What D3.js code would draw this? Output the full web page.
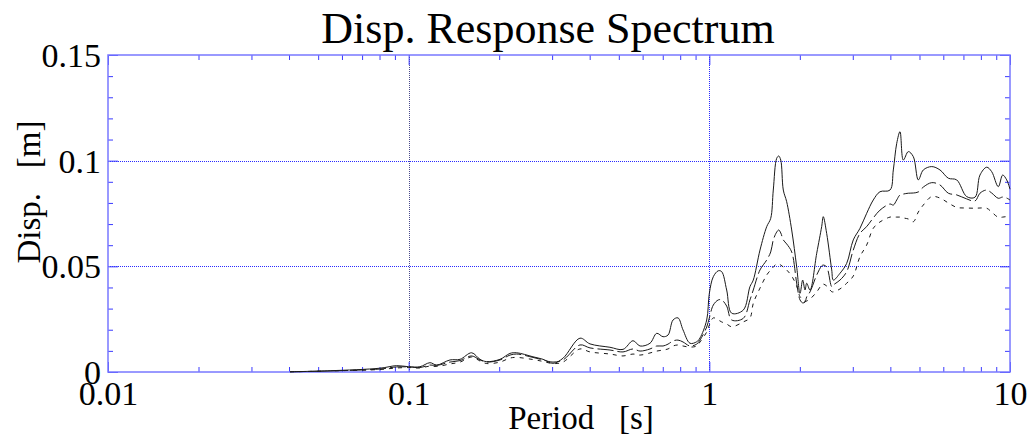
<!DOCTYPE html>
<html><head><meta charset="utf-8">
<script src="https://cdn.jsdelivr.net/npm/d3@7"></script>
<style>
html,body{margin:0;padding:0;background:#fff;}
svg{display:block;}
text{font-family:"Liberation Serif","Times New Roman",serif;fill:#000;}
</style></head>
<body>
<svg id="chart" width="1034" height="440"></svg>
<script>
// ---- data ----
const periods = [0.0403,0.0548,0.0803,0.0912,0.1,0.109,0.1177,0.124,0.1372,0.1482,0.162,0.1727,0.1818,0.2013,0.2173,0.2287,0.2591,0.2798,0.302,0.326,0.3713,0.401,0.4672,0.5163,0.5574,0.5882,0.6348,0.6683,0.7015,0.7289,0.7573,0.7868,0.8176,0.8623,0.9078,0.931,0.980,1.0,1.031,1.071,1.099,1.142,1.187,1.297,1.365,1.400,1.474,1.552,1.600,1.632,1.675,1.701,1.728,1.762,1.808,1.879,1.952,2.003,2.044,2.081,2.108,2.162,2.276,2.364,2.393,2.456,2.553,2.585,2.720,2.863,3.011,3.170,3.337,3.510,3.695,3.990,4.092,4.200,4.307,4.418,4.590,4.769,4.955,5.148,5.491,5.851,6.235,6.648,7.178,7.648,7.946,8.365,8.691,9.142,9.455,9.750,10];
const dispSolid = [0.0001,0.0006,0.0018,0.0030,0.0025,0.0025,0.0044,0.0033,0.0057,0.0060,0.0091,0.0060,0.0049,0.0060,0.0088,0.0091,0.0072,0.0060,0.0041,0.0065,0.0160,0.0133,0.0117,0.0107,0.0148,0.0123,0.0136,0.0183,0.0167,0.0175,0.0246,0.0256,0.0199,0.0136,0.0143,0.0161,0.0246,0.0372,0.0451,0.0479,0.0475,0.0388,0.0278,0.0293,0.0404,0.0435,0.0577,0.0688,0.0727,0.0861,0.1011,0.1022,0.1003,0.0861,0.0806,0.0672,0.0498,0.0372,0.0435,0.0388,0.0420,0.0388,0.0562,0.0688,0.0735,0.0656,0.0483,0.0435,0.0467,0.0514,0.0625,0.0680,0.0751,0.0814,0.0853,0.0861,0.0956,0.1082,0.1137,0.1003,0.1043,0.1019,0.0909,0.0956,0.0972,0.0956,0.0917,0.0909,0.0830,0.0827,0.0932,0.0969,0.0948,0.0877,0.0932,0.0909,0.0865];
const dispLongDash = [0.0001,0.0005,0.0014,0.0024,0.0024,0.0021,0.0033,0.0031,0.0047,0.0054,0.0076,0.0057,0.0047,0.0057,0.0080,0.0085,0.0069,0.0057,0.0047,0.0057,0.0128,0.0114,0.0104,0.0095,0.0109,0.0099,0.0109,0.0123,0.0123,0.0132,0.0147,0.0151,0.0142,0.0123,0.0132,0.0151,0.0213,0.0256,0.0317,0.0341,0.0341,0.0312,0.0246,0.0254,0.0341,0.0388,0.0483,0.0530,0.0568,0.0625,0.0662,0.0672,0.0658,0.0625,0.0606,0.0568,0.0421,0.0341,0.0327,0.0331,0.0356,0.0379,0.0459,0.0502,0.0506,0.0497,0.0404,0.0412,0.0435,0.0475,0.0577,0.0656,0.0688,0.0729,0.0766,0.0795,0.0790,0.0814,0.0838,0.0842,0.0846,0.0847,0.0852,0.0875,0.0896,0.0885,0.0846,0.0838,0.0819,0.0809,0.0846,0.0861,0.0847,0.0822,0.0828,0.0823,0.0814];
const dispShortDash = [0.0001,0.0005,0.0012,0.0019,0.0021,0.0019,0.0028,0.0026,0.0038,0.0047,0.0071,0.0052,0.0040,0.0047,0.0066,0.0069,0.0059,0.0050,0.0040,0.0047,0.0109,0.0095,0.0085,0.0076,0.0085,0.0080,0.0090,0.0099,0.0104,0.0109,0.0123,0.0128,0.0123,0.0118,0.0123,0.0142,0.0189,0.0222,0.0256,0.0246,0.0237,0.0227,0.0214,0.0237,0.0256,0.0325,0.0397,0.0459,0.0483,0.0497,0.0511,0.0511,0.0506,0.0497,0.0483,0.0454,0.0407,0.0356,0.0345,0.0333,0.0336,0.0345,0.0379,0.0412,0.0416,0.0407,0.0380,0.0379,0.0393,0.0420,0.0454,0.0546,0.0601,0.0680,0.0710,0.0733,0.0733,0.0733,0.0733,0.0729,0.0724,0.0711,0.0757,0.0790,0.0830,0.0823,0.0800,0.0779,0.0776,0.0775,0.0776,0.0775,0.0757,0.0732,0.0733,0.0735,0.0733];
const xTickValues = [0.01, 0.1, 1, 10];
const xTickLabels = ["0.01", "0.1", "1", "10"];
const yTickValues = [0, 0.05, 0.1, 0.15];
const yTickLabels = ["0", "0.05", "0.1", "0.15"];
const xGridValues = [0.1, 1];
const yGridValues = [0.05, 0.1];
const titleText = "Disp. Response Spectrum";
const xTitle = "Period\u00a0\u00a0\u00a0[s]";
const yTitle = "Disp.\u00a0\u00a0\u00a0[m]";

// ---- layout ----
const L = 108, R = 1010, T = 55, B = 372;
const svg = d3.select("#chart");
const x = d3.scaleLog().domain([0.01, 10]).range([L, R]);
const y = d3.scaleLinear().domain([0, 0.15]).range([B, T]);
const axisCol = "#7878ff", tickCol = "#3a3aff", gridCol = "#2a2aff";

svg.append("rect").attr("width",1034).attr("height",440).attr("fill","#fff");

// grid
svg.append("g").selectAll("line").data(xGridValues).join("line")
  .attr("x1", d => Math.round(x(d)) + 0.5).attr("x2", d => Math.round(x(d)) + 0.5)
  .attr("y1", T).attr("y2", B)
  .attr("stroke", (d, i) => i === 0 ? "#4a4a8a" : gridCol).attr("stroke-width", 1).attr("stroke-dasharray", "1,1");
svg.append("g").selectAll("line").data(yGridValues).join("line")
  .attr("x1", L).attr("x2", R)
  .attr("y1", d => Math.round(y(d)) + 0.5).attr("y2", d => Math.round(y(d)) + 0.5)
  .attr("stroke", gridCol).attr("stroke-width", 1).attr("stroke-dasharray", "1,1");

// minor ticks
const xMinor = [];
[0.01, 0.1, 1].forEach(dec => { for (let k = 2; k <= 9; k++) xMinor.push(dec * k); });
const yMinor = d3.range(0, 16).map(i => i / 100).filter(v => Math.round(v * 100) % 5 !== 0);

function styleAxis(g) {
  g.select(".domain").remove();
  g.selectAll(".tick line").attr("stroke", tickCol).attr("stroke-width", 1);
}
svg.append("g").attr("transform", `translate(0,${B})`)
  .call(d3.axisBottom(x).tickValues(xMinor).tickSize(-5).tickFormat("")).call(styleAxis);
svg.append("g").attr("transform", `translate(0,${T})`)
  .call(d3.axisTop(x).tickValues(xMinor).tickSize(-5).tickFormat("")).call(styleAxis);
svg.append("g").attr("transform", `translate(0,${T})`)
  .call(d3.axisTop(x).tickValues(xTickValues).tickSize(-10).tickFormat("")).call(styleAxis);
svg.append("g").attr("transform", `translate(${L},0)`)
  .call(d3.axisLeft(y).tickValues(yMinor).tickSize(-5).tickFormat("")).call(styleAxis);
svg.append("g").attr("transform", `translate(${R},0)`)
  .call(d3.axisRight(y).tickValues(yMinor).tickSize(-5).tickFormat("")).call(styleAxis);
svg.append("g").attr("transform", `translate(${R},0)`)
  .call(d3.axisRight(y).tickValues(yTickValues).tickSize(-10).tickFormat("")).call(styleAxis);

// major axes with labels
const gx = svg.append("g").attr("transform", `translate(0,${B})`)
  .call(d3.axisBottom(x).tickValues(xTickValues).tickSize(-10)
    .tickFormat((d, i) => xTickLabels[i])).call(styleAxis);
gx.selectAll(".tick text").attr("y", 33).attr("dy", 0)
  .style("font-size", "34px").style("font-family", '"Liberation Serif",serif').attr("fill", "#000");
const gy = svg.append("g").attr("transform", `translate(${L},0)`)
  .call(d3.axisLeft(y).tickValues(yTickValues).tickSize(-10)
    .tickFormat((d, i) => yTickLabels[i])).call(styleAxis);
gy.selectAll(".tick text").attr("x", -7).attr("dy", "0.34em")
  .style("font-size", "34px").style("font-family", '"Liberation Serif",serif').attr("fill", "#000");

// frame
svg.append("rect").attr("x", L).attr("y", T).attr("width", R - L).attr("height", B - T)
  .attr("fill", "none").attr("stroke", axisCol).attr("stroke-width", 1.5);

// curves
const line = d3.line().x(d => x(d[0])).y(d => y(d[1])).curve(d3.curveCatmullRom.alpha(0.5));
const series = [
  {vals: dispShortDash, dash: "4,5"},
  {vals: dispLongDash, dash: "16,4"},
  {vals: dispSolid, dash: null}
];
series.forEach(s => {
  svg.append("path").datum(periods.map((p, i) => [p, s.vals[i]]))
    .attr("d", line).attr("fill", "none").attr("stroke", "#1a1a1a").attr("stroke-width", 1)
    .attr("stroke-dasharray", s.dash);
});

// titles
svg.append("text").attr("x", 548).attr("y", 43).attr("text-anchor", "middle")
  .style("font-size", "44px").text(titleText);
svg.append("text").attr("x", 581).attr("y", 429).attr("text-anchor", "middle")
  .style("font-size", "33px").text(xTitle);
svg.append("text").attr("transform", "translate(40,192) rotate(-90)").attr("text-anchor", "middle")
  .style("font-size", "33px").text(yTitle);
</script>
</body></html>
